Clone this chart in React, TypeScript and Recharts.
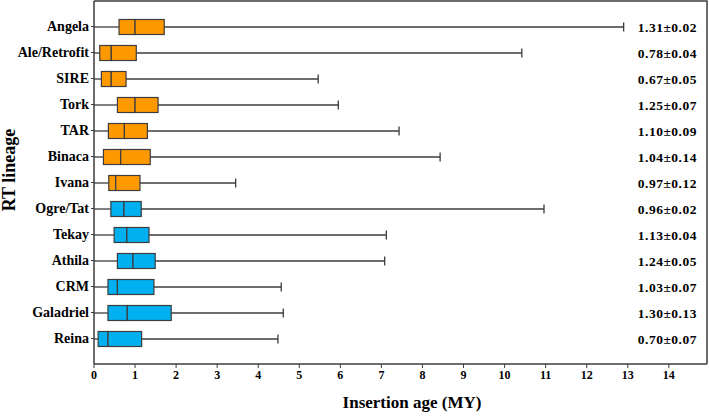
import React from "react"
import { ComposedChart, Bar, XAxis, YAxis, LabelList } from "recharts"

const lineages = ["Angela", "Ale/Retrofit", "SIRE", "Tork", "TAR", "Binaca", "Ivana", "Ogre/Tat", "Tekay", "Athila", "CRM", "Galadriel", "Reina"]
const superfamilies = ["Copia", "Copia", "Copia", "Copia", "Copia", "Copia", "Copia", "Gypsy", "Gypsy", "Gypsy", "Gypsy", "Gypsy", "Gypsy"]
const minAges = [0, 0, 0, 0, 0, 0, 0, 0, 0, 0, 0, 0, 0]
const q1Ages = [0.61, 0.14, 0.18, 0.57, 0.35, 0.23, 0.36, 0.41, 0.49, 0.57, 0.34, 0.34, 0.1]
const medianAges = [1.0, 0.42, 0.42, 1.0, 0.74, 0.65, 0.53, 0.73, 0.8, 0.95, 0.57, 0.81, 0.34]
const q3Ages = [1.71, 1.03, 0.78, 1.56, 1.3, 1.37, 1.12, 1.15, 1.34, 1.49, 1.46, 1.88, 1.16]
const maxAges = [12.9, 10.42, 5.46, 5.95, 7.43, 8.43, 3.45, 10.96, 7.12, 7.08, 4.56, 4.61, 4.48]
const meanLabels = ["1.31±0.02", "0.78±0.04", "0.67±0.05", "1.25±0.07", "1.10±0.09", "1.04±0.14", "0.97±0.12", "0.96±0.02", "1.13±0.04", "1.24±0.05", "1.03±0.07", "1.30±0.13", "0.70±0.07"]
const xTicks = [0, 1, 2, 3, 4, 5, 6, 7, 8, 9, 10, 11, 12, 13, 14]
const X_MAX = 14.93

const FAMILY_COLORS: Record<string, string> = {
  Copia: "#ff9900",
  Gypsy: "#00b0f0",
}
const LINE = "#3c3c3c"
const FONT = "'Liberation Serif', 'Times New Roman', serif"
const MARGIN = { top: 1, right: 2, bottom: 0, left: 0 }

// stacked segments: base (invisible) -> low whisker -> lower box -> upper box -> high whisker
const data = lineages.map((name, i) => ({
  name,
  family: superfamilies[i],
  base: minAges[i],
  lowWhisker: q1Ages[i] - minAges[i],
  boxLow: medianAges[i] - q1Ages[i],
  boxHigh: q3Ages[i] - medianAges[i],
  highWhisker: maxAges[i] - q3Ages[i],
  stat: meanLabels[i],
}))

const LowWhisker = (p: any) => {
  const cy = p.y + p.height / 2
  return <line x1={p.x} x2={p.x + p.width} y1={cy} y2={cy} stroke={LINE} strokeWidth={1.3} />
}

const HighWhisker = (p: any) => {
  const cy = p.y + p.height / 2
  const end = p.x + p.width
  return (
    <g>
      <line x1={p.x} x2={end} y1={cy} y2={cy} stroke={LINE} strokeWidth={1.3} />
      <line x1={end} x2={end} y1={cy - 4.5} y2={cy + 4.5} stroke={LINE} strokeWidth={1.3} />
    </g>
  )
}

const BoxPart = (p: any) => (
  <rect
    x={p.x}
    y={p.y}
    width={p.width}
    height={p.height}
    fill={FAMILY_COLORS[p.payload.family]}
    stroke={LINE}
    strokeWidth={1.2}
  />
)

const StatLabel = (props: any) => {
  const vb = props.viewBox || props
  const cy = vb.y + vb.height / 2
  return (
    <text x={697} y={cy} dy={4.5} textAnchor="end" fontFamily={FONT} fontWeight="bold" fontSize={13.5} letterSpacing={0.5} fill="#000">
      {props.value}
    </text>
  )
}

// x-axis title, plus the top and right edges of the plot box taken from the axis viewBox
const XAxisTitle = (props: any) => {
  const vb = props.viewBox || { x: 94, y: 364, width: 613, height: 53 }
  const left = vb.x
  const right = vb.x + vb.width
  const bottom = vb.y
  const top = MARGIN.top
  return (
    <g>
      <path d={`M${left},${top} H${right} V${bottom}`} fill="none" stroke={LINE} strokeWidth={1.5} />
      <text x={412} y={408} textAnchor="middle" fontFamily={FONT} fontWeight="bold" fontSize={17} fill="#000">
        Insertion age (MY)
      </text>
    </g>
  )
}

export default function App() {
  return (
    <div style={{ position: "absolute", left: 0, top: 0, width: 709, height: 417, background: "#fff" }}>
      <ComposedChart
        width={709}
        height={417}
        data={data}
        layout="vertical"
        margin={MARGIN}
        barSize={15}
      >
        <XAxis
          type="number"
          domain={[0, X_MAX]}
          ticks={xTicks}
          allowDataOverflow
          height={53}
          tickSize={4}
          tick={{ fontSize: 12, fontFamily: FONT, fontWeight: "bold", fill: "#000" }}
          axisLine={{ stroke: LINE, strokeWidth: 1.5 }}
          tickLine={{ stroke: LINE }}
          label={{ content: XAxisTitle }}
        />
        <YAxis
          type="category"
          dataKey="name"
          width={94}
          padding={{ top: 12.5, bottom: 12.5 }}
          tickSize={3}
          tick={{ fontSize: 14, fontFamily: FONT, fontWeight: "bold", fill: "#000" }}
          axisLine={{ stroke: LINE, strokeWidth: 1.5 }}
          tickLine={{ stroke: LINE }}
          label={{
            content: () => (
              <text transform="translate(15,170) rotate(-90)" textAnchor="middle" fontFamily={FONT} fontWeight="bold" fontSize={18} fill="#000">
                RT lineage
              </text>
            ),
          }}
        />
        <Bar dataKey="base" stackId="box" fill="transparent" isAnimationActive={false} />
        <Bar dataKey="lowWhisker" stackId="box" shape={LowWhisker} isAnimationActive={false} />
        <Bar dataKey="boxLow" stackId="box" shape={BoxPart} isAnimationActive={false} />
        <Bar dataKey="boxHigh" stackId="box" shape={BoxPart} isAnimationActive={false} />
        <Bar dataKey="highWhisker" stackId="box" shape={HighWhisker} isAnimationActive={false}>
          <LabelList dataKey="stat" content={StatLabel} />
        </Bar>
      </ComposedChart>
    </div>
  )
}
